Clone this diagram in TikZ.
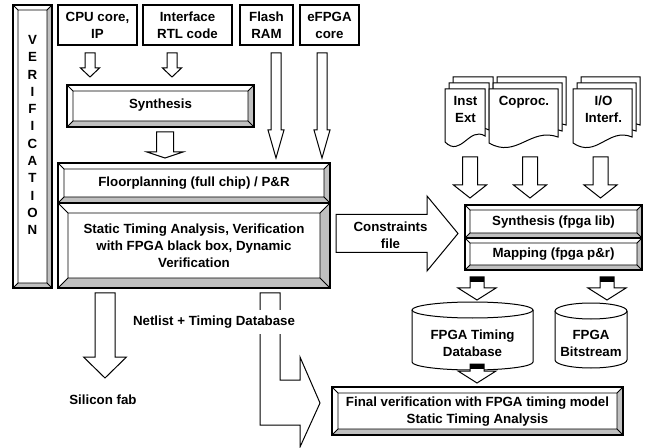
\documentclass[tikz,border=0pt]{standalone}
\usepackage{fontspec}
\setmainfont{Liberation Sans}
\usetikzlibrary{calc}
\definecolor{bevelgray}{HTML}{C0C0C0}
\newcommand\lbl{\fontsize{13.3bp}{17bp}\selectfont\bfseries}

% raised frame round a node: light top/left, grey right/bottom
\newcommand\bevelframe[2]{%
  \coordinate (#1-inw) at ($(#1.north west)+(#2,#2)$);
  \coordinate (#1-ine) at ($(#1.north east)+(-#2,#2)$);
  \coordinate (#1-ise) at ($(#1.south east)+(-#2,-#2)$);
  \coordinate (#1-isw) at ($(#1.south west)+(#2,-#2)$);
  \fill[bevelgray] (#1.north east) -- (#1.south east) -- (#1-ise) -- (#1-ine) -- cycle;
  \fill[bevelgray] (#1.south west) -- (#1.south east) -- (#1-ise) -- (#1-isw) -- cycle;
  \draw[thinline] (#1-inw) rectangle (#1-ise)
    (#1.north west) -- (#1-inw) (#1.north east) -- (#1-ine)
    (#1.south east) -- (#1-ise) (#1.south west) -- (#1-isw);
  \draw[frameline] (#1.north west) rectangle (#1.south east);
}

% hollow block arrow pointing down: x, top, head start, tip, half shaft, half head
\newcommand\downblock[6]{%
  \draw[blockarr] (#1-#5,#2) -- (#1+#5,#2) -- (#1+#5,#3) -- (#1+#6,#3) -- (#1,#4)
    -- (#1-#6,#3) -- (#1-#5,#3) -- cycle;}

% stacked document sheets: left, right, top, bottom-left y
\newcommand\docsheet[4]{%
  \draw[sheet] (#1,#3) -- (#2,#3) -- (#2,#4-6)
    .. controls ({#2-0.4*(#2-#1)},#4-16) and ({#1+0.4*(#2-#1)},#4+16) .. (#1,#4) -- cycle;}
\newcommand\docstack[4]{%
  \docsheet{#1+8}{#2+8}{#3-12}{#4-12}
  \docsheet{#1+4}{#2+4}{#3-6}{#4-6}
  \docsheet{#1}{#2}{#3}{#4}}

% database drum: centre x, half width, top, bottom, ellipse radius
\newcommand\drum[5]{%
  \draw[sheet] (#1-#2,#3+#5) -- (#1-#2,#4-#5)
    .. controls (#1-#2,{#4-#5+0.5523*#5}) and ({#1-0.5523*#2},#4) .. (#1,#4)
    .. controls ({#1+0.5523*#2},#4) and (#1+#2,{#4-#5+0.5523*#5}) .. (#1+#2,#4-#5)
    -- (#1+#2,#3+#5);
  \draw[sheet] (#1,#3+#5) ellipse [x radius=#2, y radius=#5];}

\tikzset{
  plainbox/.style={draw, line width=1.2bp, rectangle, inner sep=0pt, outer sep=0pt,
    align=center, font=\lbl},
  bevelbox/.style={rectangle, inner sep=0pt, outer sep=0pt, align=center, font=\lbl},
  caption/.style={align=center, font=\lbl, inner sep=1bp},
  blockarr/.style={draw, fill=white, line width=1bp, line join=miter},
  sheet/.style={draw, fill=white, line width=1bp},
  thinline/.style={line width=0.8bp},
  frameline/.style={line width=1.7bp}
}

\begin{document}
\begin{tikzpicture}[x=1bp, y=-1bp]
\useasboundingbox (0,0) rectangle (646,448);

% verification column
\node[bevelbox, minimum width=39bp, minimum height=283bp] (verif) at (32.5,146.5) {};
\bevelframe{verif}{5}
\node[caption, font=\fontsize{13.3bp}{17.3bp}\selectfont\bfseries] (veriftext) at (32.5,135)
  {V\\E\\R\\I\\F\\I\\C\\A\\T\\I\\O\\N};

% sources
\node[plainbox, minimum width=79bp, minimum height=40bp] (cpu) at (97.5,25) {CPU core,\\IP};
\node[plainbox, minimum width=89bp, minimum height=40bp] (rtl) at (187.5,25) {Interface\\RTL code};
\node[plainbox, minimum width=53bp, minimum height=40bp] (flash) at (266.5,25) {Flash\\RAM};
\node[plainbox, minimum width=59bp, minimum height=40bp] (efpga) at (329.5,25) {eFPGA\\core};

\downblock{90}{53}{68}{77}{5}{9.5}
\downblock{172}{53}{68}{77}{5}{9.5}

% ASIC synthesis
\node[bevelbox, minimum width=187bp, minimum height=42bp] (synth) at (160.5,106) {};
\bevelframe{synth}{6}
\node[caption] (synthtext) at (160.5,105) {Synthesis};

\downblock{165}{132}{152}{158}{8.5}{18}
\downblock{276}{53}{130}{158}{5}{8}
\downblock{322}{53}{130}{158}{5}{8}

% full chip flow
\node[bevelbox, minimum width=272bp, minimum height=40bp] (floor) at (194,183) {};
\bevelframe{floor}{6}
\node[caption] (floortext) at (194,183) {Floorplanning (full chip) / P\&R};

\node[bevelbox, minimum width=272bp, minimum height=85bp] (sta) at (194,245.5) {};
\bevelframe{sta}{10}
\node[caption] (statext) at (194,246)
  {Static Timing Analysis, Verification\\with FPGA black box, Dynamic\\Verification};

% constraints
\draw[blockarr] (336,214.5) -- (427,214.5) -- (427,196) -- (458,233.5) -- (427,271)
  -- (427,252.5) -- (336,252.5) -- cycle;
\node[caption] (constr) at (390.5,235) {Constraints\\file};

% FPGA customisation sources
\docstack{445}{485}{89}{142}
\docstack{489}{558}{89}{143}
\docstack{573}{632}{89}{143}
\node[caption, anchor=north] (inst) at (465.5,95) {Inst\\Ext};
\node[caption, anchor=north] (coproc) at (524,95) {Coproc.};
\node[caption, anchor=north] (io) at (603.5,95) {I/O\\Interf.};

\downblock{470}{157}{185}{198}{7.5}{16.5}
\downblock{530}{157}{185}{198}{7.5}{16.5}
\downblock{600.5}{157}{185}{198}{7.5}{16.5}

% FPGA flow
\node[bevelbox, minimum width=177bp, minimum height=33bp] (fsynth) at (553.5,221.5) {};
\bevelframe{fsynth}{5}
\node[caption] (fsynthtext) at (553.5,222) {Synthesis (fpga lib)};
\node[bevelbox, minimum width=177bp, minimum height=32bp] (fmap) at (553.5,254) {};
\bevelframe{fmap}{5}
\node[caption] (fmaptext) at (553.5,254.5) {Mapping (fpga p\&r)};

\downblock{477}{277}{288}{300}{7}{19}
\fill (470,277) rectangle (484,282);
\downblock{607}{277}{288}{300}{7}{19}
\fill (600,277) rectangle (614,282);

% databases
\drum{472.5}{60.5}{302}{370}{8}
\node[caption] (tdb) at (472.5,343) {FPGA Timing\\Database};
\drum{591}{36}{303}{368}{8}
\node[caption] (bits) at (591,343) {FPGA\\Bitstream};

\downblock{477}{364}{371}{383}{7}{19}
\fill (470,364) rectangle (484,368.5);

% final check
\node[bevelbox, minimum width=291bp, minimum height=48bp] (final) at (477.5,411) {};
\bevelframe{final}{6}
\node[caption] (finaltext) at (477.5,412)
  {Final verification with FPGA timing model\\Static Timing Analysis};

% outputs of the full chip flow
\downblock{105}{293}{357}{378}{10}{21.5}
\node[caption] (fab) at (103,400) {Silicon fab};

\draw[blockarr] (260,293) -- (280,293) -- (280,380) -- (300,380) -- (300,357)
  -- (320,403) -- (300,447) -- (300,425) -- (260,425) -- cycle;
\node[caption, fill=white, inner ysep=6bp] (netlist) at (214,322) {Netlist + Timing Database};
\end{tikzpicture}
\end{document}
